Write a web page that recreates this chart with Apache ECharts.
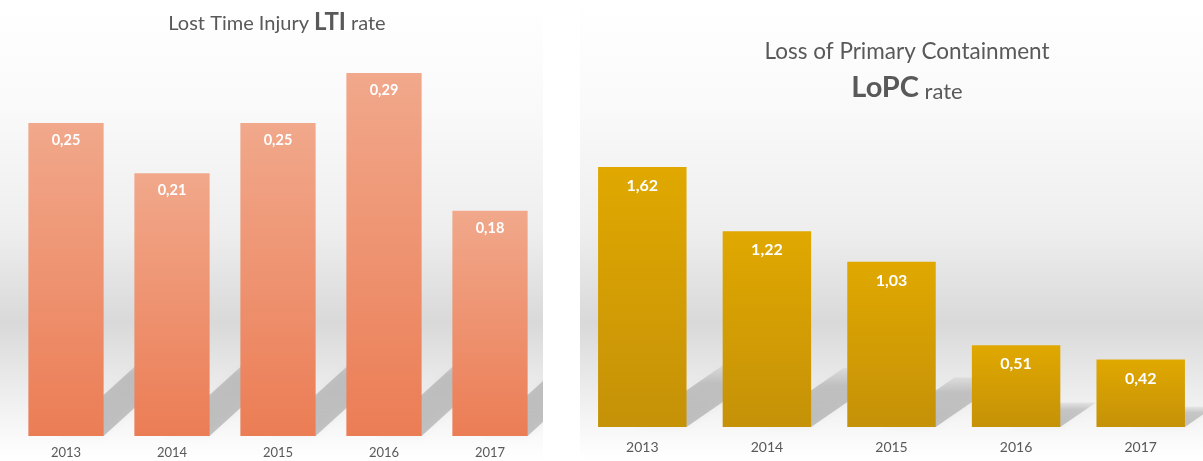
<!DOCTYPE html>
<html>
<head>
<meta charset="utf-8">
<script src="https://cdn.jsdelivr.net/npm/echarts@6/dist/echarts.min.js"></script>
<style>html,body{margin:0;padding:0;background:#fff}#c{width:1203px;height:461px}</style>
</head>
<body>
<div id="c"></div>
<script>
var years = ['2013', '2014', '2015', '2016', '2017'];
var ltiRate = [0.25, 0.21, 0.25, 0.29, 0.18];
var lopcRate = [1.62, 1.22, 1.03, 0.51, 0.42];

var FONT = 'Lato, "Open Sans", sans-serif';
var TXT = '#595959';
function fmt(v) { return v.toFixed(2).replace('.', ','); }

var chart = echarts.init(document.getElementById('c'), null, {renderer: 'canvas'});

function bgGrad() {
  return new echarts.graphic.LinearGradient(0, 0, 0, 1, [
    {offset: 0, color: '#ffffff'},
    {offset: 0.25, color: '#f9f9f9'},
    {offset: 0.5, color: '#eeeeee'},
    {offset: 0.7, color: '#d9d9d9'},
    {offset: 0.85, color: '#ededed'},
    {offset: 0.96, color: '#fbfbfb'},
    {offset: 1, color: '#ffffff'}
  ]);
}

function shadowSeries(xi, data, startFrac, slope, hFrac, hMax, clipRight) {
  return {
    type: 'custom',
    xAxisIndex: xi, yAxisIndex: xi,
    z: 1,
    silent: true,
    data: data.map(function (v, i) { return [i, v]; }),
    renderItem: function (params, api) {
      var top = api.coord([api.value(0), api.value(1)]);
      var base = api.coord([api.value(0), 0]);
      var band = api.size([1, 0])[0];
      var w = band * 0.71;
      var x0 = top[0] - w / 2, x1 = top[0] + w / 2;
      var h = base[1] - top[1];
      var H = Math.min(h * hFrac, hMax);
      var dx = H * slope;
      var sx = x0 + w * startFrac;
      var cs = params.coordSys;
      return {
        type: 'polygon',
        shape: {points: [[sx, base[1]], [x1, base[1]], [x1 + dx, base[1] - H], [sx + dx, base[1] - H]]},
        style: {
          fill: new echarts.graphic.LinearGradient(0, 1, 0, 0, [
            {offset: 0, color: 'rgba(0,0,0,0.21)'},
            {offset: 0.7, color: 'rgba(0,0,0,0.17)'},
            {offset: 1, color: 'rgba(0,0,0,0.05)'}
          ]),
          shadowBlur: 7,
          shadowColor: 'rgba(0,0,0,0.14)'
        },
        clipPath: {type: 'rect', shape: {x: cs.x - 20, y: cs.y - 50, width: clipRight - cs.x + 20, height: cs.height + 60}}
      };
    }
  };
}

var option = {
  backgroundColor: '#ffffff',
  animation: false,
  graphic: [
    {type: 'rect', z: -10, shape: {x: 0, y: 0, width: 543, height: 461}, style: {fill: bgGrad()}},
    {type: 'rect', z: -10, shape: {x: 580, y: 0, width: 623, height: 461}, style: {fill: bgGrad()}},
    {type: 'text', z: 10, style: {
      x: 277, y: 22, align: 'center', verticalAlign: 'middle',
      text: '{a|Lost Time Injury }{b|LTI}{a| rate}',
      rich: {
        a: {fontFamily: FONT, fontSize: 20, fill: TXT, verticalAlign: 'bottom'},
        b: {fontFamily: FONT, fontSize: 24, fontWeight: 'bold', fill: TXT, verticalAlign: 'bottom'}
      }
    }},
    {type: 'text', z: 10, style: {
      x: 907, y: 52, align: 'center', verticalAlign: 'middle',
      text: 'Loss of Primary Containment',
      fontFamily: FONT, fontSize: 22.5, fill: TXT
    }},
    {type: 'text', z: 10, style: {
      x: 907, y: 88, align: 'center', verticalAlign: 'middle',
      text: '{b|LoPC}{a| rate}',
      rich: {
        a: {fontFamily: FONT, fontSize: 22, fill: TXT, verticalAlign: 'bottom'},
        b: {fontFamily: FONT, fontSize: 29, fontWeight: 'bold', fill: TXT, verticalAlign: 'bottom'}
      }
    }}
  ],
  grid: [
    {left: 13, width: 530, top: 60.5, bottom: 25},
    {left: 580, right: 0, top: 106, bottom: 34}
  ],
  xAxis: [
    {type: 'category', gridIndex: 0, data: years,
     axisLine: {show: false}, axisTick: {show: false},
     axisLabel: {color: TXT, fontFamily: FONT, fontSize: 13, margin: 10}},
    {type: 'category', gridIndex: 1, data: years,
     axisLine: {show: false}, axisTick: {show: false},
     axisLabel: {color: TXT, fontFamily: FONT, fontSize: 14, margin: 13}}
  ],
  yAxis: [
    {type: 'value', gridIndex: 0, min: 0, max: 0.3, show: false, splitLine: {show: false}},
    {type: 'value', gridIndex: 1, min: 0, max: 2, show: false, splitLine: {show: false}}
  ],
  series: [
    shadowSeries(0, ltiRate, 0.4, 1.1, 0.38, 88, 543),
    shadowSeries(1, lopcRate, 0.4, 1.45, 0.3, 62, 1203),
    {
      type: 'bar', xAxisIndex: 0, yAxisIndex: 0, z: 3,
      data: ltiRate, barWidth: '71%',
      itemStyle: {color: new echarts.graphic.LinearGradient(0, 0, 0, 1, [
        {offset: 0, color: '#f1a88b'},
        {offset: 1, color: '#eb7d55'}
      ])},
      label: {show: true, position: 'insideTop', distance: 10, color: '#ffffff',
        fontFamily: FONT, fontWeight: 'bold', fontSize: 14.5,
        formatter: function (p) { return fmt(p.value); }}
    },
    {
      type: 'bar', xAxisIndex: 1, yAxisIndex: 1, z: 3,
      data: lopcRate, barWidth: '71%',
      itemStyle: {color: new echarts.graphic.LinearGradient(0, 0, 0, 1, [
        {offset: 0, color: '#e0a800'},
        {offset: 1, color: '#c59208'}
      ])},
      label: {show: true, position: 'insideTop', distance: 11, color: '#ffffff',
        fontFamily: FONT, fontWeight: 'bold', fontSize: 16,
        formatter: function (p) { return fmt(p.value); }}
    }
  ]
};
chart.setOption(option);
</script>
</body>
</html>
